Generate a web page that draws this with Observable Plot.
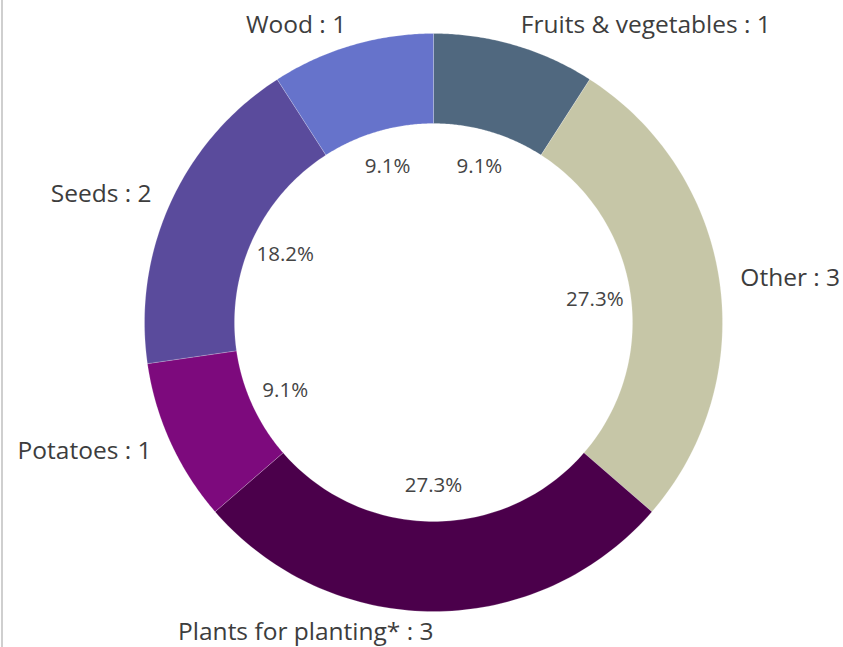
<!DOCTYPE html>
<html>
<head>
<meta charset="utf-8">
<script src="https://cdn.jsdelivr.net/npm/d3@7"></script>
<script src="https://cdn.jsdelivr.net/npm/@observablehq/plot@0.6"></script>
<style>
  html, body { margin: 0; padding: 0; background: #fff; }
  #wrap { position: relative; width: 843px; height: 647px; overflow: hidden; }
  #edge { position: absolute; left: 1px; top: 0; width: 2px; height: 647px; background: #cfcfcf; }
</style>
</head>
<body>
<div id="wrap"><div id="edge"></div></div>
<script>
// Data
const categories = ["Fruits & vegetables", "Other", "Plants for planting*", "Potatoes", "Seeds", "Wood"];
const counts = [1, 3, 3, 1, 2, 1];
const colors = ["#50687f", "#c6c6a7", "#4b004b", "#7d0a7d", "#5a4b9c", "#6673cb"];

const W = 843, H = 647;
const cx = 433, cy = 322, rOutPx = 289;
const innerRatio = 199 / 289;
const outerLabelR = 310 / 289;
const pctLabelR = 163 / 289;

const total = d3.sum(counts);
let acc = 0;
const slices = categories.map((c, i) => {
  const a0 = acc / total * 2 * Math.PI;
  acc += counts[i];
  const a1 = acc / total * 2 * Math.PI;
  return {cat: c, value: counts[i], a0, a1, mid: (a0 + a1) / 2, pct: (counts[i] / total * 100).toFixed(1) + "%"};
});

// polygon points for each ring slice (angle measured clockwise from 12 o'clock)
const poly = [];
for (const s of slices) {
  const n = 80;
  for (let k = 0; k <= n; k++) {
    const a = s.a0 + (s.a1 - s.a0) * k / n;
    poly.push({cat: s.cat, x: Math.sin(a), y: Math.cos(a)});
  }
  for (let k = n; k >= 0; k--) {
    const a = s.a0 + (s.a1 - s.a0) * k / n;
    poly.push({cat: s.cat, x: innerRatio * Math.sin(a), y: innerRatio * Math.cos(a)});
  }
  const a = s.a0;
  poly.push({cat: s.cat, x: Math.sin(a), y: Math.cos(a)});
}

const labels = slices.map(s => ({
  text: `${s.cat} : ${s.value}`,
  x: outerLabelR * Math.sin(s.mid),
  y: outerLabelR * Math.cos(s.mid),
  right: s.mid < Math.PI - 1e-6
}));
const pcts = slices.map(s => ({
  text: s.pct,
  x: pctLabelR * Math.sin(s.mid),
  y: pctLabelR * Math.cos(s.mid)
}));

const font = "'Open Sans', Lato, sans-serif";
const chart = Plot.plot({
  width: W, height: H,
  margin: 0,
  x: {domain: [-cx / rOutPx, (W - cx) / rOutPx], axis: null},
  y: {domain: [-(H - cy) / rOutPx, cy / rOutPx], axis: null},
  color: {domain: categories, range: colors},
  style: {fontFamily: font, background: "transparent"},
  marks: [
    Plot.line(poly, {x: "x", y: "y", z: "cat", fill: "cat", stroke: "#ffffff", strokeWidth: 0.5, strokeOpacity: 0.4, curve: "linear"}),
    Plot.text(labels.filter(d => d.right), {x: "x", y: "y", text: "text", textAnchor: "start", fontSize: 24.5, fill: "#3d3d3d"}),
    Plot.text(labels.filter(d => !d.right), {x: "x", y: "y", text: "text", textAnchor: "end", fontSize: 24.5, fill: "#3d3d3d"}),
    Plot.text(pcts, {x: "x", y: "y", text: "text", textAnchor: "middle", fontSize: 20.5, fill: "#444444"})
  ]
});
document.getElementById("wrap").appendChild(chart);
</script>
</body>
</html>
